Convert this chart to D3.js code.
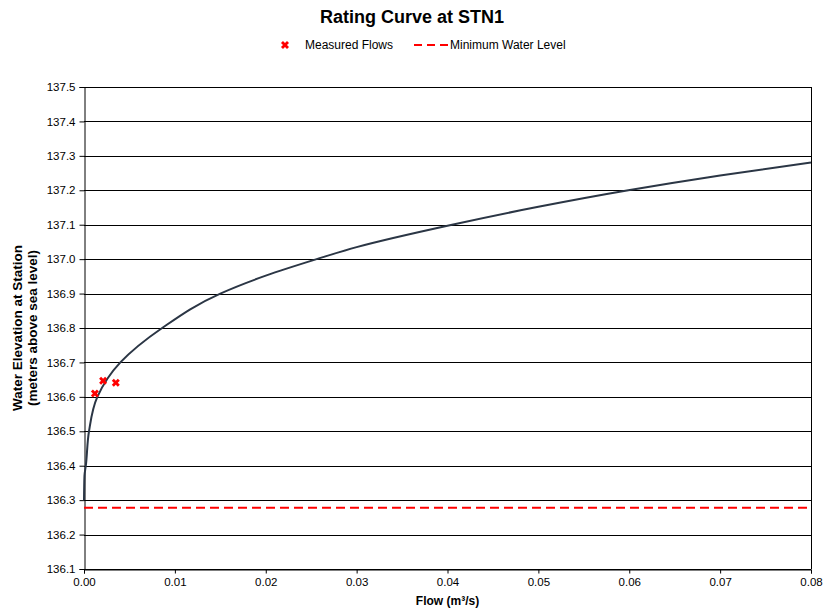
<!DOCTYPE html>
<html>
<head>
<meta charset="utf-8">
<script src="https://cdn.jsdelivr.net/npm/d3@7"></script>
<style>
  html, body { margin: 0; padding: 0; background: #fff; }
  svg { display: block; font-family: Arial, "Liberation Sans", sans-serif; }
</style>
</head>
<body>
<svg id="chart" width="825" height="614"></svg>
<script>
// Rating curve: flow (m³/s) against water elevation (m above sea level)
const curveFlow = [0, 0.00005, 0.0002, 0.00055, 0.00147, 0.0040, 0.0086, 0.0150, 0.0200, 0.0256, 0.0300, 0.0405, 0.0500, 0.0599, 0.0700, 0.0800];
const curveElev = [136.30, 136.37, 136.40, 136.50, 136.60, 136.70, 136.80, 136.90, 136.952, 137.00, 137.035, 137.10, 137.152, 137.20, 137.243, 137.281];

// Field measurements
const measuredFlow = [0.0012, 0.0021, 0.0035];
const measuredElev = [136.610, 136.647, 136.641];

// Minimum water level
const minWaterLevel = 136.278;

const xTicks = [0, 0.01, 0.02, 0.03, 0.04, 0.05, 0.06, 0.07, 0.08];
const yTicks = [136.1, 136.2, 136.3, 136.4, 136.5, 136.6, 136.7, 136.8, 136.9, 137.0, 137.1, 137.2, 137.3, 137.4, 137.5];

const svg = d3.select("#chart");
const margin = { left: 84, right: 14, top: 87, bottom: 45 };
const W = 825, H = 614;

const x = d3.scaleLinear().domain([0, 0.08]).range([margin.left, W - margin.right]);
const y = d3.scaleLinear().domain([136.1, 137.5]).range([H - margin.bottom, margin.top]);

// Title
svg.append("text")
  .attr("x", 412).attr("y", 23)
  .attr("text-anchor", "middle")
  .attr("font-size", 18).attr("font-weight", "bold")
  .text("Rating Curve at STN1");

// Horizontal gridlines
svg.append("g")
  .selectAll("line")
  .data(yTicks)
  .join("line")
  .attr("x1", x(0)).attr("x2", x(0.08))
  .attr("y1", d => Math.round(y(d)) + 0.5).attr("y2", d => Math.round(y(d)) + 0.5)
  .attr("stroke", "#000").attr("stroke-width", 1);

// Right border
svg.append("line")
  .attr("x1", Math.round(x(0.08)) + 0.5).attr("x2", Math.round(x(0.08)) + 0.5)
  .attr("y1", y(137.5)).attr("y2", y(136.1))
  .attr("stroke", "#000");

// Axes
const xAxis = d3.axisBottom(x).tickValues(xTicks).tickFormat(d3.format(".2f")).tickSize(4).tickPadding(4);
const yAxis = d3.axisLeft(y).tickValues(yTicks).tickFormat(d3.format(".1f")).tickSize(5).tickPadding(4);

const gx = svg.append("g").attr("transform", `translate(0,${Math.round(y(136.1)) + 0.5})`).call(xAxis);
const gy = svg.append("g").attr("transform", `translate(${Math.round(x(0)) + 0.5},0)`).call(yAxis);
[gx, gy].forEach(g => {
  g.select(".domain").attr("stroke", "#000");
  g.selectAll(".tick line").attr("stroke", "#000");
  g.selectAll(".tick text").attr("fill", "#000")
    .attr("font-family", "Arial, 'Liberation Sans', sans-serif");
});
gx.selectAll(".tick text").attr("font-size", 11.5);
gy.selectAll(".tick text").attr("font-size", 11.5);

// Axis titles
svg.append("text")
  .attr("x", x(0.04)).attr("y", 605)
  .attr("text-anchor", "middle")
  .attr("font-size", 12).attr("font-weight", "bold")
  .text("Flow (m³/s)");

const yTitle = svg.append("text")
  .attr("transform", `translate(22,${(y(137.5) + y(136.1)) / 2}) rotate(-90)`)
  .attr("text-anchor", "middle")
  .attr("font-size", 13.5).attr("font-weight", "bold");
yTitle.append("tspan").attr("x", 0).attr("dy", 0).text("Water Elevation at Station");
yTitle.append("tspan").attr("x", 0).attr("dy", 14.5).text("(meters above sea level)");

// Minimum water level
svg.append("line")
  .attr("x1", x(0)).attr("x2", x(0.08))
  .attr("y1", y(minWaterLevel)).attr("y2", y(minWaterLevel))
  .attr("stroke", "#ff0000").attr("stroke-width", 2)
  .attr("stroke-dasharray", "9,5");

// Rating curve
const curvePts = curveFlow.map((q, i) => [q, curveElev[i]]);
svg.append("path")
  .datum(curvePts)
  .attr("fill", "none")
  .attr("stroke", "#2b3645").attr("stroke-width", 2)
  .attr("d", d3.line().x(d => x(d[0])).y(d => y(d[1])).curve(d3.curveMonotoneY));

// Measured flow markers
const cross = d3.symbol().type(d3.symbolCross).size(40);
svg.append("g")
  .selectAll("path")
  .data(measuredFlow.map((q, i) => [q, measuredElev[i]]))
  .join("path")
  .attr("d", cross)
  .attr("transform", d => `translate(${x(d[0])},${y(d[1])}) rotate(45)`)
  .attr("fill", "#ff0000");

// Legend
const leg = svg.append("g").attr("font-size", 12);
leg.append("path")
  .attr("d", cross)
  .attr("transform", "translate(285,45) rotate(45)")
  .attr("fill", "#ff0000");
leg.append("text").attr("x", 305).attr("y", 49).text("Measured Flows");
leg.append("line")
  .attr("x1", 414).attr("x2", 450).attr("y1", 45).attr("y2", 45)
  .attr("stroke", "#ff0000").attr("stroke-width", 2)
  .attr("stroke-dasharray", "8,5");
leg.append("text").attr("x", 450).attr("y", 49).text("Minimum Water Level");
</script>
</body>
</html>
